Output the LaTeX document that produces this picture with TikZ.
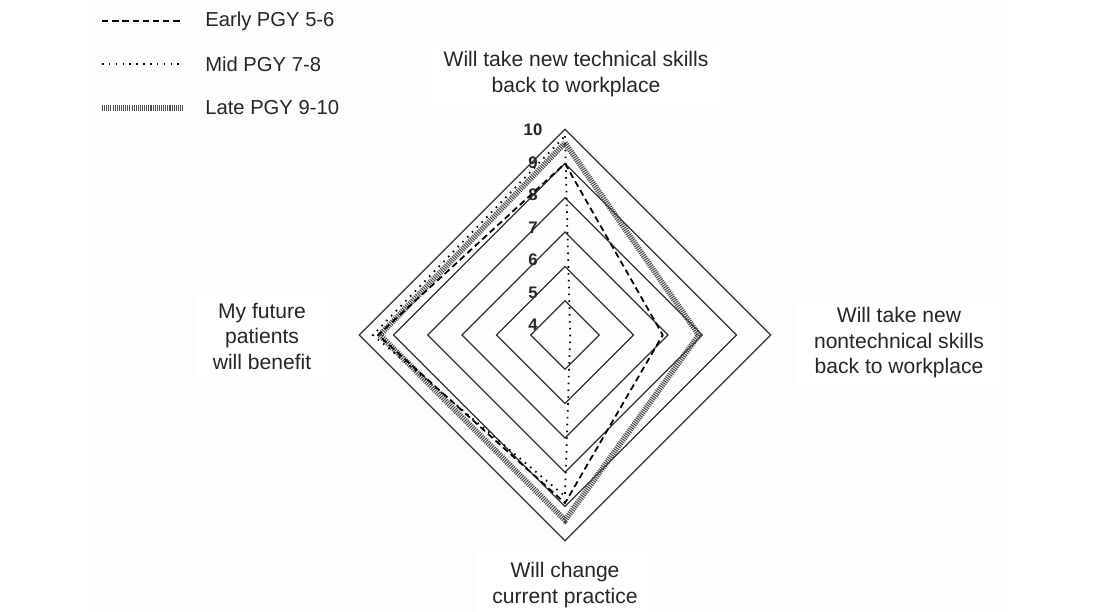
\documentclass[tikz,border=0pt]{standalone}
\usepackage{fontspec}
\setmainfont{Liberation Sans}
\usetikzlibrary{positioning,calc}

\tikzset{
  gridline/.style={gray!40!black, line width=0.7pt},
  early/.style={black, line width=1pt, dash pattern=on 3.6pt off 2.2pt},
  mid/.style={black, line width=1pt, dash pattern=on 0.9pt off 3pt},
  late/.style={gray!60!black, line width=3.2pt, dash pattern=on 0.6pt off 0.6pt},
  axislabel/.style={align=center, fill=white, inner xsep=10pt, inner ysep=6pt,
    text=black!85, font=\fontsize{12}{14.5}\selectfont},
  ticklabel/.style={font=\bfseries\fontsize{9.5}{10}\selectfont, inner sep=1pt, text=black!85},
  legendtext/.style={anchor=west, inner sep=0pt, text=black!85,
    font=\fontsize{11.5}{13}\selectfont}
}

\begin{document}
\begin{tikzpicture}[x=0.02cm, y=-0.02cm]
    % Canvas
    \fill[white] (0,0) rectangle (1096,612);
    \fill[gray!1.5] (88,0) rectangle (1008,612);
    \useasboundingbox (0,0) rectangle (1096,612);

    % Radar grid, levels 5 to 10 (centre is 4)
    \coordinate (O) at (565,335);
    \foreach \L in {5,...,10} {
        \pgfmathsetmacro\r{(\L-4)*34.3}
        \draw[gridline, shift={(O)}] (0,-\r) -- (\r,0) -- (0,\r) -- (-\r,0) -- cycle;
    }

    % Scale labels
    \foreach \L in {4,...,10} {
        \node[ticklabel] (tick\L) at (533,{325-(\L-4)*32.5}) {\L};
    }

    % Series: technical / nontechnical / practice / patients
    \foreach \s/\a/\b/\c/\d in {late/9.6/7.9/9.4/9.4,
                                early/9.0/6.85/8.9/9.45,
                                mid/9.8/4.15/8.7/9.6} {
        \coordinate (\s-n) at ($(O)+(0,{-(\a-4)*34.3})$);
        \coordinate (\s-e) at ($(O)+({(\b-4)*34.3},0)$);
        \coordinate (\s-s) at ($(O)+(0,{(\c-4)*34.3})$);
        \coordinate (\s-w) at ($(O)+({-(\d-4)*34.3},0)$);
        \draw[\s, line join=miter] (\s-n) -- (\s-e) -- (\s-s) -- (\s-w) -- cycle;
    }

    % Axis labels
    \node[axislabel] (tech) at (576,74) {Will take new technical skills\\back to workplace};
    \node[axislabel] (nontech) at (899,343) {Will take new\\nontechnical skills\\back to workplace};
    \node[axislabel] (practice) at (565,585) {Will change\\current practice};
    \node[axislabel] (patients) at (262,336) {My future\\patients\\will benefit};

    % Legend
    \foreach \s/\y/\t in {early/21/Early PGY 5-6, mid/64/Mid PGY 7-8, late/108/Late PGY 9-10} {
        \coordinate (key-\s) at (102,\y);
        \coordinate (key-\s-end) at (183,\y);
        \draw[\s] (key-\s) -- (key-\s-end);
        \node[legendtext] (name-\s) at (205,\y) {\t};
    }
\end{tikzpicture}
\end{document}
